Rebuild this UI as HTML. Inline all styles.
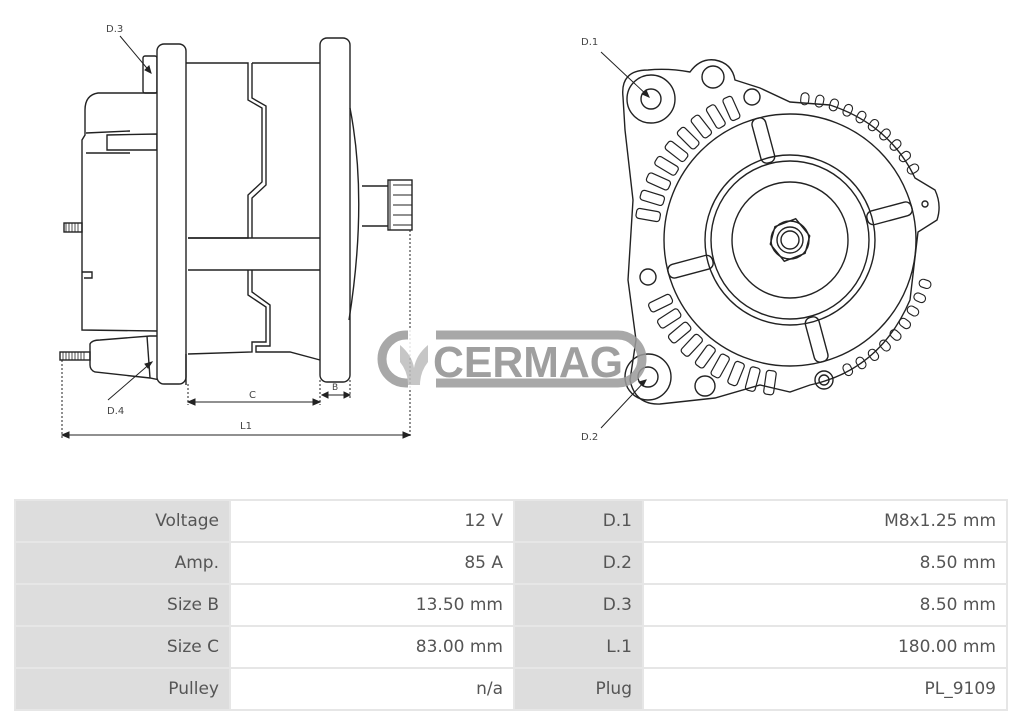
<!DOCTYPE html>
<html><head><meta charset="utf-8"><style>
html,body{margin:0;padding:0;background:#fff;width:1024px;height:718px;overflow:hidden}
svg{position:absolute;left:0;top:0}
table{position:absolute;left:14px;top:499px;border-collapse:collapse;font-family:"DejaVu Sans","Liberation Sans",sans-serif;font-size:17px;color:#555;table-layout:fixed;width:992px}
td{height:42px;border:2px solid #e6e6e6;text-align:right;padding:0 10px;box-sizing:border-box}
td.l{background:#ddd}
td.v{background:#fff}
</style></head><body>
<svg width="1024" height="490" viewBox="0 0 1024 490" fill="none" stroke="#222" stroke-width="1.4" font-family="DejaVu Sans,Liberation Sans,sans-serif">
<!-- LEFT VIEW -->
<path d="M157 93 L98 93 Q85 95 85 110 L85 135 L82 140 L82 330 L157 331"/>
<path d="M86 133 L130 131 M107 135 L157 134 L157 150 L107 150 Z M86 153 L130 153"/>
<path d="M82 272 L92 272 L92 278 L84 278"/>
<rect x="143" y="56" width="14" height="37" rx="2"/>
<rect x="64" y="223" width="18" height="9"/>
<path d="M66 223v9M69 223v9M72 223v9M75 223v9M78 223v9" stroke-width="0.8"/>
<path d="M90 344 Q92 340 100 340 L150 336 L160 336 L160 380 L150 378 L95 372 Q90 370 90 365 Z"/>
<path d="M147 336 L150 378"/>
<rect x="60" y="352" width="30" height="8"/>
<path d="M63 352v8M66 352v8M69 352v8M72 352v8M75 352v8M78 352v8M81 352v8M84 352v8" stroke-width="0.8"/>
<rect x="157" y="44" width="29" height="340" rx="7" fill="#fff"/>
<path d="M186 63 L248 63 L248 100 L262 108 L262 182 L248 195 L248 238 L188 238"/>
<path d="M252 63 L320 63"/>
<path d="M252 63 L252 98 L266 106 L266 185 L252 198 L252 238"/>
<path d="M188 238 L323 238 M188 270 L323 270"/>
<path d="M248 270 L248 295 L266 307 L266 342 L252 342 L252 352 L188 354"/>
<path d="M252 270 L252 292 L270 305 L270 346 L256 346 L256 352 L290 352 L320 360"/>
<path d="M186 354 L186 385"/>
<rect x="320" y="38" width="30" height="344" rx="7" fill="#fff"/>
<path d="M350 108 Q368 200 349 320"/>
<path d="M362 186 L388 186 M362 226 L388 226"/>
<rect x="388" y="180" width="24" height="50" fill="#fff"/>
<path d="M390 180v50M393 185h19M393 195h19M393 205h19M393 215h19M393 225h19" stroke-width="1"/>
<g stroke-dasharray="2 2" stroke-width="1">
<path d="M62 360 V438 M410 230 V438 M188 384 V405 M320 380 V405 M350 380 V398"/>
</g>
<g stroke-width="1">
<path d="M62 435 H410 M188 402 H320 M322 395 H350"/>
<path d="M62 435 l7 -3 v6z M410 435 l-7 -3 v6z M188 402 l7 -3 v6z M320 402 l-7 -3 v6z M322 395 l6 -3 v6z M350 395 l-6 -3 v6z" fill="#222"/>
<path d="M120 36 L151 73 M108 400 L152 362"/>
<path d="M151 73 l-2 -7 l-4 4z M152 362 l-7 2 l3 4z" fill="#222"/>
</g>
<g fill="#444" stroke="none" font-size="10">
<text x="106" y="32">D.3</text>
<text x="107" y="414">D.4</text>
<text x="249" y="398">C</text>
<text x="332" y="390" font-size="9">B</text>
<text x="240" y="429">L1</text>
<text x="581" y="45">D.1</text>
<text x="581" y="440">D.2</text>
</g>
<!-- RIGHT VIEW -->
<path d="M623 97 Q620 70 648 70 Q668 68 690 72 Q700 58 715 60 Q732 63 735 80 L760 88 L790 102 L830 105 Q890 125 915 178 L935 190 Q942 205 937 220 L918 232 L910 300 Q880 370 810 385 L790 392 L760 385 L715 398 L660 404 Q635 405 630 380 L636 340 L628 280 L633 200 L625 130 Z"/>
<circle cx="651" cy="99" r="10"/><circle cx="651" cy="99" r="24"/>
<circle cx="648" cy="377" r="10"/><circle cx="648" cy="377" r="23"/>
<circle cx="713" cy="77" r="11"/><circle cx="752" cy="97" r="8"/>
<circle cx="648" cy="277" r="8"/><circle cx="705" cy="386" r="10"/>
<circle cx="824" cy="380" r="5"/><circle cx="824" cy="380" r="9"/>
<circle cx="925" cy="204" r="3"/>
<circle cx="790" cy="240" r="126"/>
<circle cx="790" cy="240" r="85"/><circle cx="790" cy="240" r="79"/>
<circle cx="790" cy="240" r="58"/>
<polygon points="808,231 808,249 790,262 772,249 772,231 790,218" transform="rotate(15 790 240)"/>
<circle cx="790" cy="240" r="19"/><circle cx="790" cy="240" r="13"/><circle cx="790" cy="240" r="9"/>
<g>
<rect x="870" y="233" width="46" height="14" rx="6" transform="rotate(-15 790 240)"/>
<rect x="870" y="233" width="46" height="14" rx="6" transform="rotate(75 790 240)"/>
<rect x="870" y="233" width="46" height="14" rx="6" transform="rotate(165 790 240)"/>
<rect x="870" y="233" width="46" height="14" rx="6" transform="rotate(255 790 240)"/>
</g>
<g stroke-width="1.2">
<rect x="922" y="235" width="24" height="10" rx="3" transform="rotate(190 790 240)"/>
<rect x="922" y="235" width="24" height="10" rx="3" transform="rotate(197 790 240)"/>
<rect x="922" y="235" width="24" height="10" rx="3" transform="rotate(204 790 240)"/>
<rect x="922" y="235" width="24" height="10" rx="3" transform="rotate(211 790 240)"/>
<rect x="922" y="235" width="24" height="10" rx="3" transform="rotate(218 790 240)"/>
<rect x="922" y="235" width="24" height="10" rx="3" transform="rotate(225 790 240)"/>
<rect x="922" y="235" width="24" height="10" rx="3" transform="rotate(232 790 240)"/>
<rect x="922" y="235" width="24" height="10" rx="3" transform="rotate(239 790 240)"/>
<rect x="922" y="235" width="24" height="10" rx="3" transform="rotate(246 790 240)"/>
<rect x="922" y="235" width="24" height="10" rx="3" transform="rotate(98 790 240)"/>
<rect x="922" y="235" width="24" height="10" rx="3" transform="rotate(105 790 240)"/>
<rect x="922" y="235" width="24" height="10" rx="3" transform="rotate(112 790 240)"/>
<rect x="922" y="235" width="24" height="10" rx="3" transform="rotate(119 790 240)"/>
<rect x="922" y="235" width="24" height="10" rx="3" transform="rotate(126 790 240)"/>
<rect x="922" y="235" width="24" height="10" rx="3" transform="rotate(133 790 240)"/>
<rect x="922" y="235" width="24" height="10" rx="3" transform="rotate(140 790 240)"/>
<rect x="922" y="235" width="24" height="10" rx="3" transform="rotate(147 790 240)"/>
<rect x="922" y="235" width="24" height="10" rx="3" transform="rotate(154 790 240)"/>
</g>
<g stroke-width="1.1">
<rect x="926" y="236" width="12" height="8" rx="4" transform="rotate(-84 790 240)"/>
<rect x="926" y="236" width="12" height="8" rx="4" transform="rotate(-78 790 240)"/>
<rect x="926" y="236" width="12" height="8" rx="4" transform="rotate(-72 790 240)"/>
<rect x="926" y="236" width="12" height="8" rx="4" transform="rotate(-66 790 240)"/>
<rect x="926" y="236" width="12" height="8" rx="4" transform="rotate(-60 790 240)"/>
<rect x="926" y="236" width="12" height="8" rx="4" transform="rotate(-54 790 240)"/>
<rect x="926" y="236" width="12" height="8" rx="4" transform="rotate(-48 790 240)"/>
<rect x="926" y="236" width="12" height="8" rx="4" transform="rotate(-42 790 240)"/>
<rect x="926" y="236" width="12" height="8" rx="4" transform="rotate(-36 790 240)"/>
<rect x="926" y="236" width="12" height="8" rx="4" transform="rotate(-30 790 240)"/>
<rect x="926" y="236" width="12" height="8" rx="4" transform="rotate(18 790 240)"/>
<rect x="926" y="236" width="12" height="8" rx="4" transform="rotate(24 790 240)"/>
<rect x="926" y="236" width="12" height="8" rx="4" transform="rotate(30 790 240)"/>
<rect x="926" y="236" width="12" height="8" rx="4" transform="rotate(36 790 240)"/>
<rect x="926" y="236" width="12" height="8" rx="4" transform="rotate(42 790 240)"/>
<rect x="926" y="236" width="12" height="8" rx="4" transform="rotate(48 790 240)"/>
<rect x="926" y="236" width="12" height="8" rx="4" transform="rotate(54 790 240)"/>
<rect x="926" y="236" width="12" height="8" rx="4" transform="rotate(60 790 240)"/>
<rect x="926" y="236" width="12" height="8" rx="4" transform="rotate(66 790 240)"/>
</g>
<g stroke-width="1">
<path d="M601 52 L649 97 M601 428 L646 380"/>
<path d="M649 97 l-3 -7 l-4 4z M646 380 l-7 2 l4 4z" fill="#222"/>
</g>
<g opacity="0.85">
<rect x="382" y="335" width="260" height="48" rx="24" stroke="#9a9a9a" stroke-width="9" fill="none"/>
<rect x="408" y="328" width="28" height="62" fill="#fff" stroke="none"/>
<path d="M400 345 Q412 355 414 368 Q416 355 428 345 L428 362 Q420 372 420 385 L408 385 Q408 372 400 362 Z" fill="#bdbdbd" stroke="none"/>
<text x="433" y="377" font-family="Liberation Sans,sans-serif" font-weight="bold" font-size="44" fill="#8f8f8f" stroke="none" textLength="190" lengthAdjust="spacingAndGlyphs">CERMAG</text>
</g>
</svg>
<table>
<colgroup><col style="width:215px"><col style="width:284px"><col style="width:129px"><col style="width:364px"></colgroup>
<tr><td class="l">Voltage</td><td class="v">12 V</td><td class="l">D.1</td><td class="v">M8x1.25 mm</td></tr>
<tr><td class="l">Amp.</td><td class="v">85 A</td><td class="l">D.2</td><td class="v">8.50 mm</td></tr>
<tr><td class="l">Size B</td><td class="v">13.50 mm</td><td class="l">D.3</td><td class="v">8.50 mm</td></tr>
<tr><td class="l">Size C</td><td class="v">83.00 mm</td><td class="l">L.1</td><td class="v">180.00 mm</td></tr>
<tr><td class="l">Pulley</td><td class="v">n/a</td><td class="l">Plug</td><td class="v">PL_9109</td></tr>
</table>
</body></html>
